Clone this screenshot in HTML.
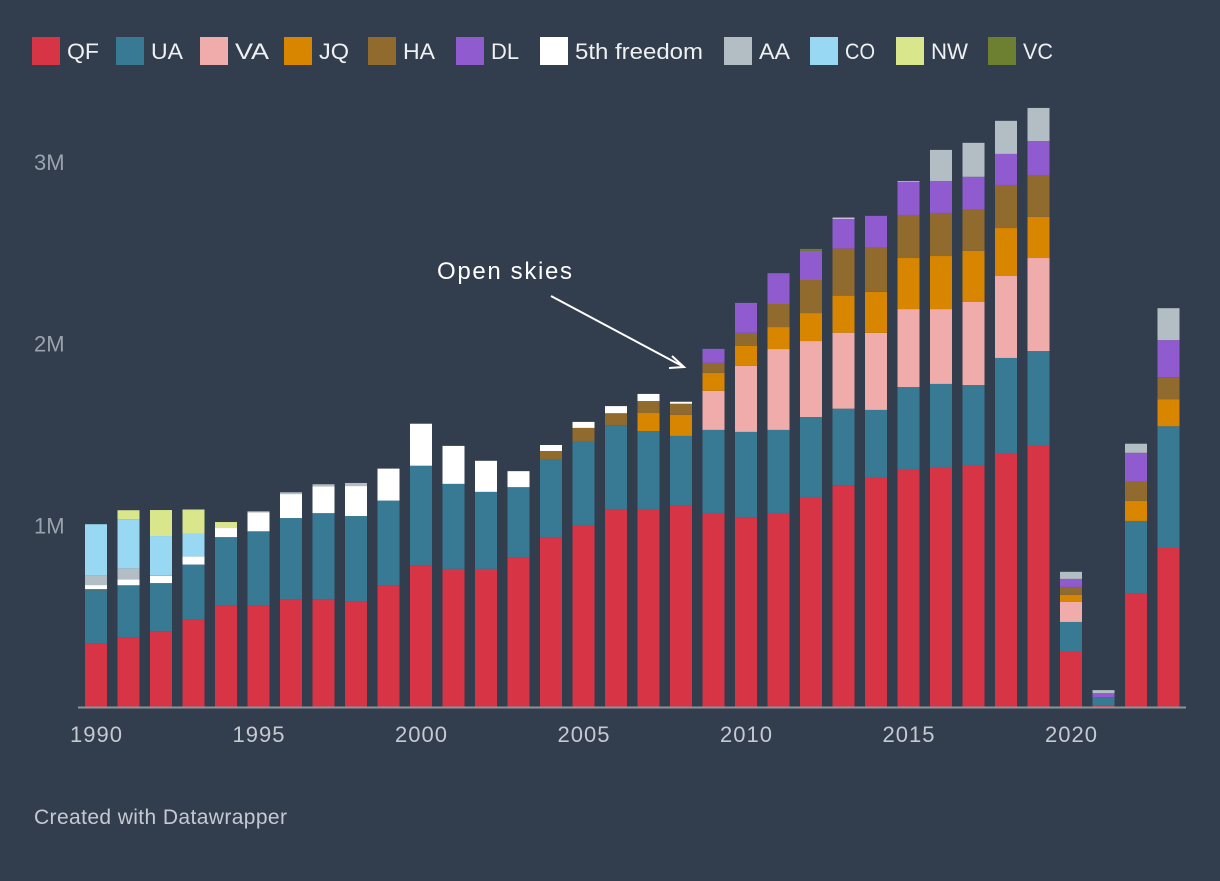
<!DOCTYPE html>
<html><head><meta charset="utf-8"><style>
body{margin:0;background:#323d4e;width:1220px;height:876px;overflow:hidden;font-family:"Liberation Sans",sans-serif}
</style></head><body>
<svg id="chart" width="1220" height="876" xmlns="http://www.w3.org/2000/svg">
<rect width="1220" height="876" fill="#323d4e"/>
<g id="legend"></g>
<g id="grid"></g>
<g id="bars"></g>
<g id="xaxis"></g>
<text x="437" y="279" fill="#ffffff" font-size="24" textLength="135">Open skies</text>
<g stroke="#ffffff" stroke-width="2" fill="none">
<line x1="551" y1="296" x2="684" y2="367"/>
<polyline points="672,356 684,367 669,368"/>
</g>
<text x="34" y="824" fill="#c5cad1" font-size="21" textLength="253">Created with Datawrapper</text>
</svg>
<script>
const years=[1990,1991,1992,1993,1994,1995,1996,1997,1998,1999,2000,2001,2002,2003,2004,2005,2006,2007,2008,2009,2010,2011,2012,2013,2014,2015,2016,2017,2018,2019,2020,2021,2022,2023];
const seriesNames=["QF","UA","VA","JQ","HA","DL","5th freedom","AA","CO","NW","VC"];
const seriesColors=["#d73446","#387a93","#f0abab","#d88600","#916a2e","#8f5bce","#ffffff","#b2bec4","#98d8f2","#d9e68b","#6d7f30"];
const QF=[0.35,0.381,0.414,0.484,0.557,0.557,0.59,0.59,0.583,0.668,0.778,0.76,0.76,0.822,0.932,1.002,1.086,1.09,1.108,1.068,1.042,1.068,1.156,1.218,1.266,1.31,1.321,1.332,1.398,1.442,0.308,0.007,0.624,0.875];
const UA=[0.293,0.289,0.268,0.30,0.378,0.41,0.45,0.477,0.468,0.468,0.55,0.468,0.424,0.388,0.433,0.462,0.465,0.429,0.384,0.457,0.472,0.457,0.44,0.424,0.369,0.451,0.457,0.44,0.523,0.517,0.16,0.047,0.40,0.67];
const VA=[0,0,0,0,0,0,0,0,0,0,0,0,0,0,0,0,0,0,0,0.215,0.363,0.445,0.418,0.418,0.424,0.429,0.412,0.457,0.451,0.512,0.11,0,0,0];
const JQ=[0,0,0,0,0,0,0,0,0,0,0,0,0,0,0,0,0,0.099,0.116,0.099,0.11,0.121,0.154,0.204,0.226,0.281,0.292,0.281,0.264,0.226,0.039,0,0.11,0.149];
const HA=[0.006,0,0,0,0,0,0,0,0,0,0,0,0,0,0.044,0.072,0.066,0.066,0.061,0.055,0.072,0.127,0.182,0.259,0.242,0.237,0.237,0.226,0.237,0.231,0.044,0,0.105,0.121];
const DL=[0,0,0,0,0,0,0,0,0,0,0,0,0,0,0,0,0,0,0,0.077,0.165,0.165,0.16,0.165,0.176,0.182,0.176,0.182,0.171,0.187,0.044,0.022,0.16,0.204];
const FIFTH=[0.022,0.033,0.039,0.044,0.05,0.105,0.132,0.148,0.165,0.176,0.231,0.209,0.171,0.088,0.033,0.033,0.039,0.039,0.011,0,0,0,0,0.005,0,0,0,0,0,0,0,0,0,0];
const AA=[0.055,0.06,0.005,0,0,0.005,0.01,0.011,0.017,0,0,0,0,0,0,0,0,0,0,0,0,0,0,0,0,0.005,0.171,0.187,0.182,0.182,0.039,0.017,0.05,0.176];
const CO=[0.28,0.27,0.215,0.127,0,0,0,0,0,0,0,0,0,0,0,0,0,0,0,0,0,0,0,0,0,0,0,0,0,0,0,0,0,0];
const NW=[0,0.05,0.143,0.132,0.033,0,0,0,0,0,0,0,0,0,0,0,0,0,0,0,0,0,0,0,0,0,0,0,0,0,0,0,0,0];
const VC=[0,0,0,0,0,0,0,0,0,0,0,0.0,0,0,0,0,0,0,0,0,0,0.005,0.011,0,0,0,0,0,0,0,0,0,0,0];
const yTicks=[1,2,3];
const yTickLabels=["1M","2M","3M"];
const xTicks=[1990,1995,2000,2005,2010,2015,2020];
const legendX=[32,116,200,284,368,456,540,724,810,896,988];
const legendW=[32,32,34,30,32,28,128,31,30,37,30];
const series=[QF,UA,VA,JQ,HA,DL,FIFTH,AA,CO,NW,VC];
const NS="http://www.w3.org/2000/svg";
function yScale(v){return 707-v*181.7;}
function xScale(yr){return 96+(yr-1990)*32.5;}
function mk(tag,attrs,parent){const e=document.createElementNS(NS,tag);for(const k in attrs)e.setAttribute(k,attrs[k]);parent.appendChild(e);return e;}
const lg=document.getElementById('legend');
seriesNames.forEach((n,i)=>{
  const g=mk('g',{},lg);
  
  
  mk('rect',{x:legendX[i],y:37,width:28,height:28,fill:seriesColors[i]},g);
  const t=mk('text',{x:legendX[i]+35,y:59,fill:'#eef0f2','font-size':22,textLength:legendW[i],lengthAdjust:'spacingAndGlyphs'},g);
  t.textContent=n;
});
const gg=document.getElementById('grid');
yTicks.forEach((v,i)=>{
  const t=mk('text',{x:34,y:yScale(v)+8,fill:'#9aa3ad','font-size':22},gg);
  
  
  t.textContent=yTickLabels[i];
});
const bg=document.getElementById('bars');
years.forEach((yr,i)=>{
  let cum=0;
  series.forEach((s,j)=>{
    const v=s[i];if(!v)return;
    const r=mk('rect',{x:xScale(yr)-11,y:yScale(cum+v),width:22,height:v*181.7,fill:seriesColors[j]},bg);
    
    
    cum+=v;
  });
});
const xa=document.getElementById('xaxis');
mk('line',{x1:78,y1:707.5,x2:1186,y2:707.5,stroke:'#8e939a','stroke-width':2},xa);
xTicks.forEach(yr=>{
  const t=mk('text',{x:xScale(yr),y:742,fill:'#c5cad1','font-size':22,'text-anchor':'middle',textLength:52},xa);
  
  
  t.textContent=yr;
});
</script>
</body></html>
